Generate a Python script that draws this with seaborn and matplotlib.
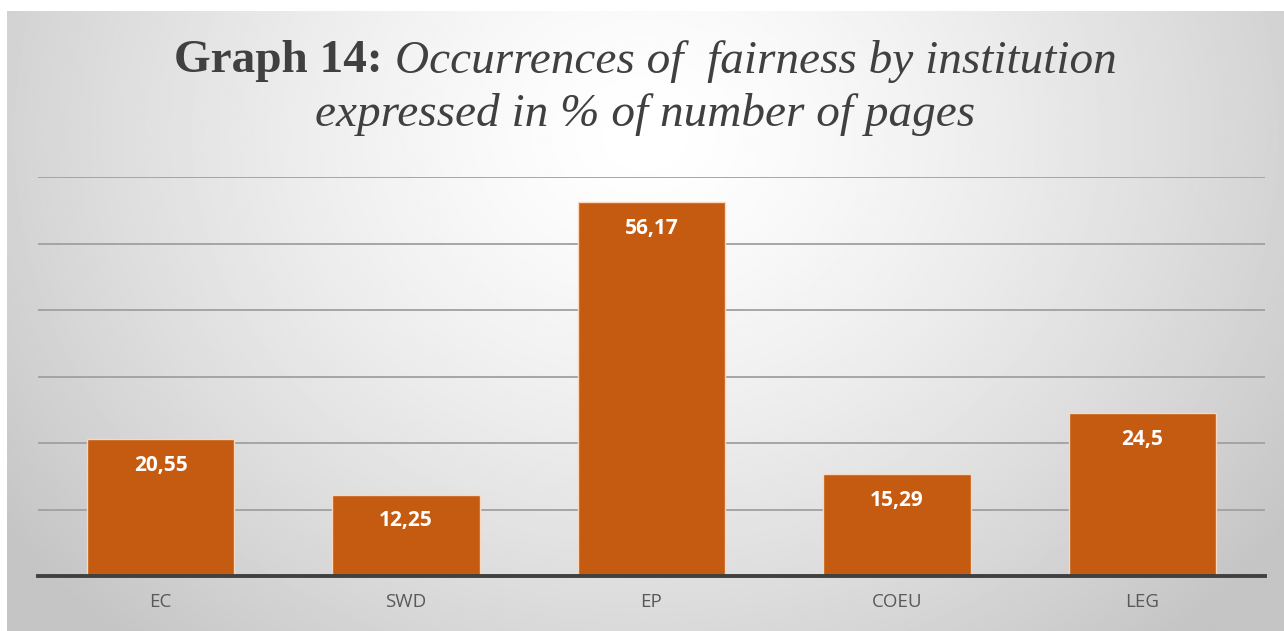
import numpy as np
import pandas as pd
import matplotlib.pyplot as plt
import seaborn as sns

# Data
institutions = ['EC', 'SWD', 'EP', 'COEU', 'LEG']
shares = [20.55, 12.25, 56.17, 15.29, 24.5]
share_labels = ['20,55', '12,25', '56,17', '15,29', '24,5']

df = pd.DataFrame({'institution': institutions, 'share': shares})

sns.set_style('white')
plt.rcParams['font.family'] = ['Open Sans', 'DejaVu Sans']

fig = plt.figure(figsize=(12.84, 6.31), dpi=100)

# radial grey gradient behind everything
bg = fig.add_axes([7 / 1284, 0, 1 - 7 / 1284, 620 / 631], zorder=0)
yy, xx = np.mgrid[0:1:300j, 0:1:600j]
dist = np.sqrt(((xx - 0.5) / 0.62) ** 2 + ((yy - 0.2) / 1.1) ** 2)
shade = 1.0 - 0.23 * np.clip(dist, 0, 1) ** 1.4
bg.imshow(shade, cmap='gray', vmin=0, vmax=1, aspect='auto',
          extent=[0, 1, 1, 0])
bg.axis('off')

ax = fig.add_axes([38 / 1284, 55 / 631, 1227 / 1284, 399 / 631], zorder=1)
ax.patch.set_alpha(0)

sns.barplot(data=df, x='institution', y='share', color='#c55a11',
            saturation=1, width=0.6, edgecolor='#f8d9bf', linewidth=1,
            ax=ax, zorder=3)

ax.set_ylim(0, 60)
ax.set_xlim(-0.5, 4.5)
ax.set_yticks([10, 20, 30, 40, 50, 60])
ax.yaxis.grid(True, color='#a0a0a0', linewidth=1.3)
ax.set_axisbelow(True)
ax.set_yticklabels([])
ax.tick_params(axis='y', length=0)
ax.tick_params(axis='x', length=0, pad=12, labelsize=13.5, colors='#595959')
ax.set_xlabel('')
ax.set_ylabel('')
for side in ['top', 'right', 'left']:
    ax.spines[side].set_visible(False)
ax.spines['bottom'].set_color('#404040')
ax.spines['bottom'].set_linewidth(2.8)
ax.spines['bottom'].set_zorder(5)

# value labels inside the bar tops
for i, (v, lab) in enumerate(zip(shares, share_labels)):
    ax.annotate(lab, (i, v), xytext=(0, -19), textcoords='offset points',
                ha='center', va='center', color='white', fontsize=15,
                fontweight='bold', zorder=6)

# title: bold prefix + italic remainder, centred as one line
serif = ['Liberation Serif', 'DejaVu Serif']
title_size = 34
fig.canvas.draw()
renderer = fig.canvas.get_renderer()
t1 = fig.text(0, 0.903, 'Graph 14: ', fontsize=title_size, fontweight='bold',
              family=serif, color='#404040', va='center')
t2 = fig.text(0, 0.903, 'Occurrences of  fairness by institution',
              fontsize=title_size, fontstyle='italic', family=serif,
              color='#404040', va='center')
w1 = t1.get_window_extent(renderer).width / fig.bbox.width
w2 = t2.get_window_extent(renderer).width / fig.bbox.width
x0 = 0.5 * (1 + 7 / 1284) - (w1 + w2) / 2
t1.set_x(x0)
t2.set_x(x0 + w1)
fig.text(0.5 * (1 + 7 / 1284), 0.818, 'expressed in % of number of pages',
         fontsize=title_size, fontstyle='italic', family=serif,
         color='#404040', ha='center', va='center')

fig.savefig('out.png', dpi=100, facecolor='white')
